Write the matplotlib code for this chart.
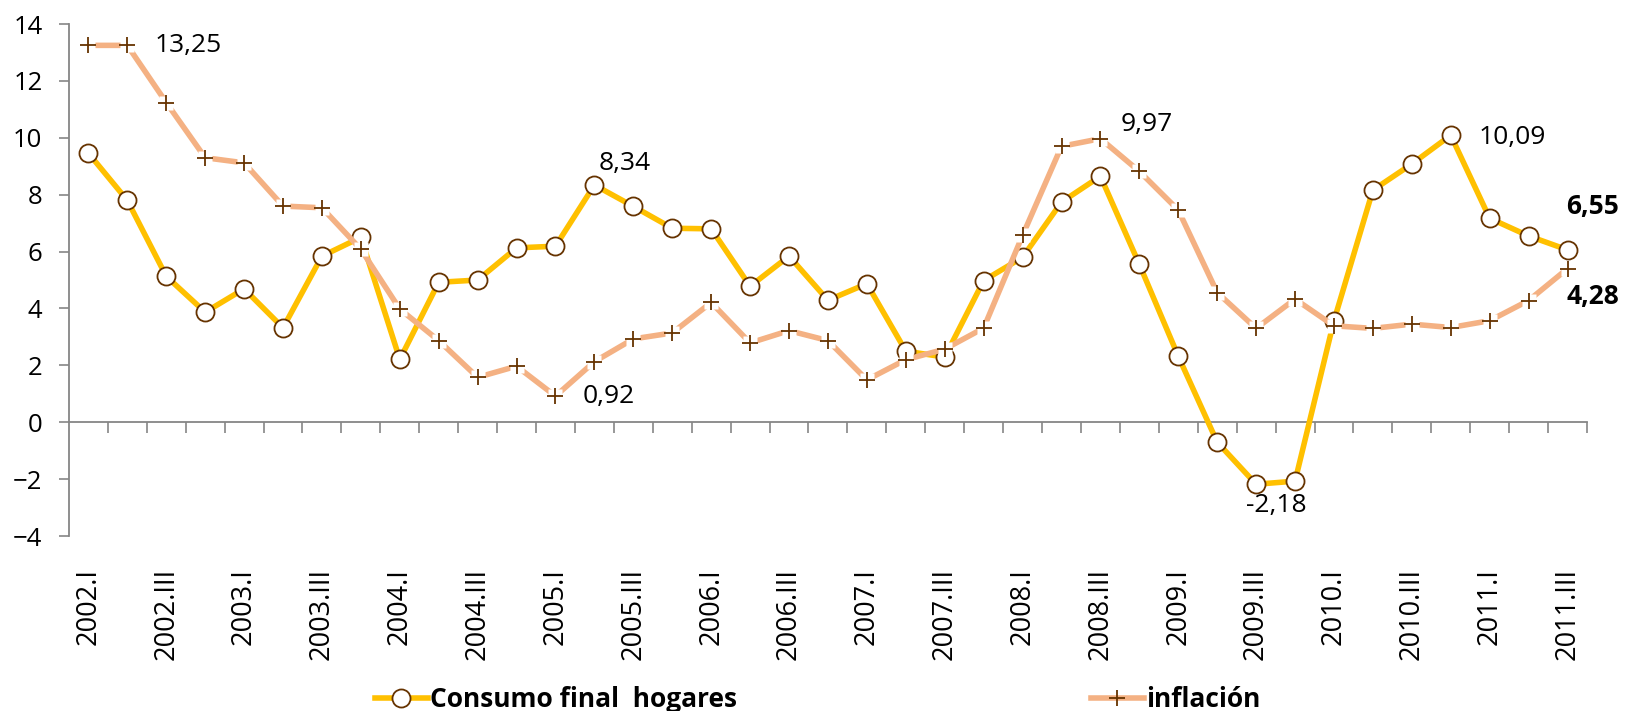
import matplotlib
matplotlib.use("Agg")
import matplotlib.pyplot as plt
from matplotlib.lines import Line2D
import numpy as np

plt.rcParams["font.family"] = ["Open Sans", "DejaVu Sans"]

years = list(range(2002, 2012))
roman = ["I", "II", "III", "IV"]
quarters = [f"{y}.{q}" for y in years for q in roman][:39]

consumo = [9.46, 7.80, 5.13, 3.87, 4.69, 3.32, 5.84, 6.50, 2.21, 4.92,
           5.00, 6.13, 6.19, 8.34, 7.59, 6.82, 6.80, 4.78, 5.84, 4.29,
           4.87, 2.50, 2.29, 4.98, 5.80, 7.74, 8.65, 5.55, 2.32, -0.70,
           -2.18, -2.07, 3.57, 8.16, 9.08, 10.09, 7.17, 6.55, 6.06]
inflacion = [13.25, 13.25, 11.24, 9.30, 9.12, 7.60, 7.54, 6.08, 3.98, 2.87,
             1.58, 1.97, 0.92, 2.13, 2.93, 3.14, 4.21, 2.79, 3.22, 2.87,
             1.49, 2.20, 2.57, 3.31, 6.57, 9.70, 9.97, 8.82, 7.46, 4.56,
             3.30, 4.33, 3.39, 3.30, 3.45, 3.33, 3.57, 4.28, 5.40]

GOLD = "#FFC000"
SALMON = "#F4B183"
BROWN = "#663300"
GRAY = "#868686"

x = np.arange(len(quarters))

fig = plt.figure(figsize=(16.26, 7.11), dpi=100)
ax = fig.add_axes([0.0424, 0.2461, 0.9336, 0.7201])

# consumo
ax.plot(x, consumo, color=GOLD, lw=4.0, zorder=3,
        marker="o", ms=13, mfc="white", mec=BROWN, mew=1.3)
# inflacion: line, white square behind +, then +
ax.plot(x, inflacion, color=SALMON, lw=4.0, zorder=4)
ax.plot(x, inflacion, ls="none", marker="s", ms=10, mfc="white", mec="none", zorder=5)
ax.plot(x, inflacion, ls="none", marker="+", ms=11.5, mec=BROWN, mew=1.3, zorder=6)

ax.set_xlim(-0.5, len(quarters) - 0.5)
ax.set_ylim(-4, 14)
ax.set_yticks(range(-4, 15, 2))
ax.tick_params(axis="y", labelsize=18.5, length=7, width=1.2, color=GRAY, pad=12)

for s in ["top", "right"]:
    ax.spines[s].set_visible(False)
ax.spines["left"].set_color(GRAY)
ax.spines["left"].set_linewidth(1.3)
ax.spines["bottom"].set_position(("data", 0))
ax.spines["bottom"].set_color(GRAY)
ax.spines["bottom"].set_linewidth(1.3)

ax.set_xticks(np.arange(0.5, len(quarters), 1.0))
ax.set_xticklabels([])
ax.tick_params(axis="x", length=8, width=1.2, color=GRAY, direction="out")

xt = ax.get_xaxis_transform()
for i in range(0, len(quarters), 2):
    ax.text(x[i], -0.0625, quarters[i], transform=xt, rotation=90,
            ha="center", va="top", fontsize=19.5)

def fmt(v):
    return f"{v:.2f}".replace(".", ",")

# data labels: (series, index, dx px, dy px, ha, bold)
labels = [
    (inflacion, 1, 27, 0, "left", False),
    (inflacion, 12, 27, 0, "left", False),
    (consumo, 13, 4, 22, "left", False),
    (inflacion, 26, 20, 14, "left", False),
    (consumo, 35, 28, -2, "left", False),
    (consumo, 30, 20, -21, "center", False),
    (consumo, 37, 38, 29, "left", True),
    (inflacion, 37, 38, 4, "left", True),
]
for ser, i, dx, dy, ha, bold in labels:
    ax.annotate(fmt(ser[i]), (x[i], ser[i]), xytext=(dx, dy),
                textcoords="offset pixels", ha=ha, va="center",
                fontsize=19, fontweight="bold" if bold else "normal",
                annotation_clip=False, zorder=7)

handles = [
    Line2D([], [], color=GOLD, lw=4.0, marker="o", ms=13, mfc="white",
           mec=BROWN, mew=1.3),
    Line2D([], [], color=SALMON, lw=4.0, marker="+", ms=11.5, mec=BROWN, mew=1.3),
]
fig.legend(handles, ["Consumo final  hogares", "inflación"], loc="center",
           bbox_to_anchor=(0.503, 0.016), ncol=2, frameon=False,
           prop={"weight": "bold", "size": 19}, columnspacing=13.4,
           handlelength=2.0, handletextpad=0.1)

fig.savefig("out.png", dpi=100)
